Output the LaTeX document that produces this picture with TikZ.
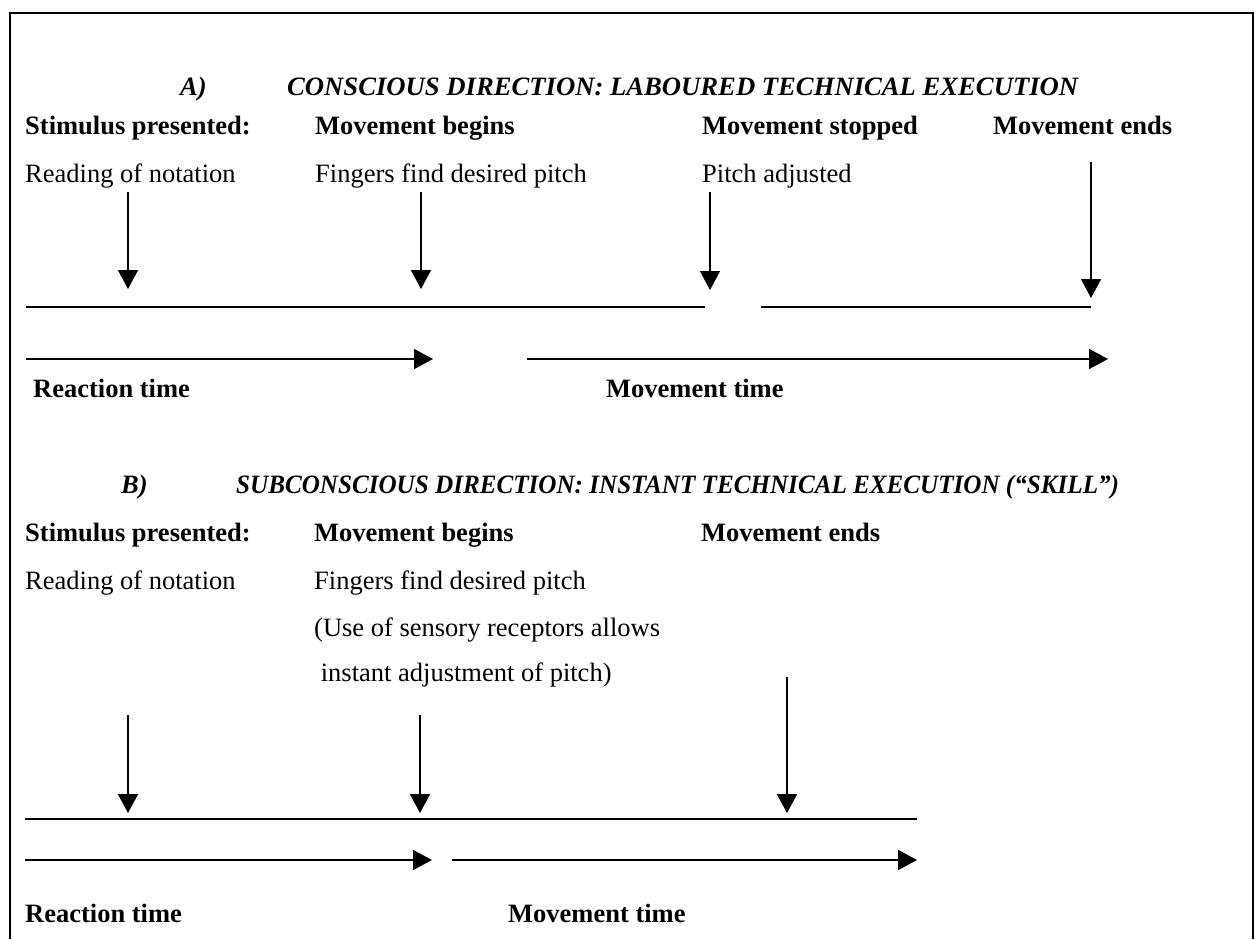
\documentclass[tikz,border=0pt]{standalone}
\usepackage{fontspec}
\usepackage{graphicx}
\setmainfont{Liberation Serif}
\usetikzlibrary{arrows.meta}

\tikzset{
  txt/.style={anchor=base west, inner sep=0pt, font=\fontsize{26.5}{30}\selectfont},
  boldtxt/.style={txt, font=\fontsize{26.5}{30}\selectfont\bfseries},
  headtxt/.style={txt, font=\fontsize{26.5}{30}\selectfont\bfseries\itshape},
  rule/.style={line width=1.6pt},
  pointer/.style={line width=1.6pt, -{Triangle[length=19pt,width=20pt]}},
  frameline/.style={line width=2pt, line join=miter},
}

\begin{document}
\begin{tikzpicture}[x=1pt,y=-1pt]
\useasboundingbox (0,0) rectangle (1257,939);
\fill[white] (0,0) rectangle (1257,939);

% frame, open at the bottom
\coordinate (fbl) at (10,939);
\coordinate (ftl) at (10,13);
\coordinate (ftr) at (1253,13);
\coordinate (fbr) at (1253,939);
\draw[frameline] (fbl) -- (ftl) -- (ftr) -- (fbr);

% ---------------- Part A ----------------
\node[headtxt] (aL) at (180,96) {A)};
\node[headtxt] (aT) at (287,96) {\scalebox{1.006}[1]{CONSCIOUS DIRECTION: LABOURED TECHNICAL EXECUTION}};

\node[boldtxt] (aS)  at (25,134)  {Stimulus presented:};
\node[boldtxt] (aMB) at (315,134) {Movement begins};
\node[boldtxt] (aMS) at (702,134) {Movement stopped};
\node[boldtxt] (aME) at (993,134) {Movement ends};

\node[txt] (aR) at (25,182)  {Reading of notation};
\node[txt] (aF) at (315,182) {Fingers find desired pitch};
\node[txt] (aP) at (702,182) {Pitch adjusted};

% event markers
\coordinate (a1s) at (128,192);  \coordinate (a1e) at (128,289);
\coordinate (a2s) at (421,192);  \coordinate (a2e) at (421,289);
\coordinate (a3s) at (710,192);  \coordinate (a3e) at (710,290);
\coordinate (a4s) at (1091,162); \coordinate (a4e) at (1091,298);
\draw[pointer] (a1s) -- (a1e);
\draw[pointer] (a2s) -- (a2e);
\draw[pointer] (a3s) -- (a3e);
\draw[pointer] (a4s) -- (a4e);

% time line, interrupted where the movement stops
\coordinate (al1) at (26,307);  \coordinate (al2) at (705,307);
\coordinate (al3) at (761,307); \coordinate (al4) at (1091,307);
\draw[rule] (al1) -- (al2);
\draw[rule] (al3) -- (al4);

% intervals
\coordinate (ar1) at (26,359);  \coordinate (ar2) at (433,359);
\coordinate (am1) at (527,359); \coordinate (am2) at (1108,359);
\draw[pointer] (ar1) -- (ar2);
\draw[pointer] (am1) -- (am2);

\node[boldtxt] (aRT) at (33,397)  {Reaction time};
\node[boldtxt] (aMT) at (606,397) {Movement time};

% ---------------- Part B ----------------
\node[headtxt] (bL) at (121,493) {B)};
\node[headtxt] (bT) at (236,493) {\scalebox{0.948}[1]{SUBCONSCIOUS DIRECTION: INSTANT TECHNICAL EXECUTION (“SKILL”)}};

\node[boldtxt] (bS)  at (25,541)  {Stimulus presented:};
\node[boldtxt] (bMB) at (314,541) {Movement begins};
\node[boldtxt] (bME) at (701,541) {Movement ends};

\node[txt] (bR)  at (25,589)  {Reading of notation};
\node[txt] (bF)  at (314,589) {Fingers find desired pitch};
\node[txt] (bU1) at (314,636) {(Use of sensory receptors allows};
\node[txt] (bU2) at (314,681) {\ instant adjustment of pitch)};

% event markers
\coordinate (b1s) at (128,715); \coordinate (b1e) at (128,813);
\coordinate (b2s) at (420,715); \coordinate (b2e) at (420,813);
\coordinate (b3s) at (787,677); \coordinate (b3e) at (787,813);
\draw[pointer] (b1s) -- (b1e);
\draw[pointer] (b2s) -- (b2e);
\draw[pointer] (b3s) -- (b3e);

% time line
\coordinate (bl1) at (25,819); \coordinate (bl2) at (917,819);
\draw[rule] (bl1) -- (bl2);

% intervals
\coordinate (br1) at (25,860);  \coordinate (br2) at (432,860);
\coordinate (bm1) at (452,860); \coordinate (bm2) at (917,860);
\draw[pointer] (br1) -- (br2);
\draw[pointer] (bm1) -- (bm2);

\node[boldtxt] (bRT) at (25,922)  {Reaction time};
\node[boldtxt] (bMT) at (508,922) {Movement time};
\end{tikzpicture}
\end{document}
